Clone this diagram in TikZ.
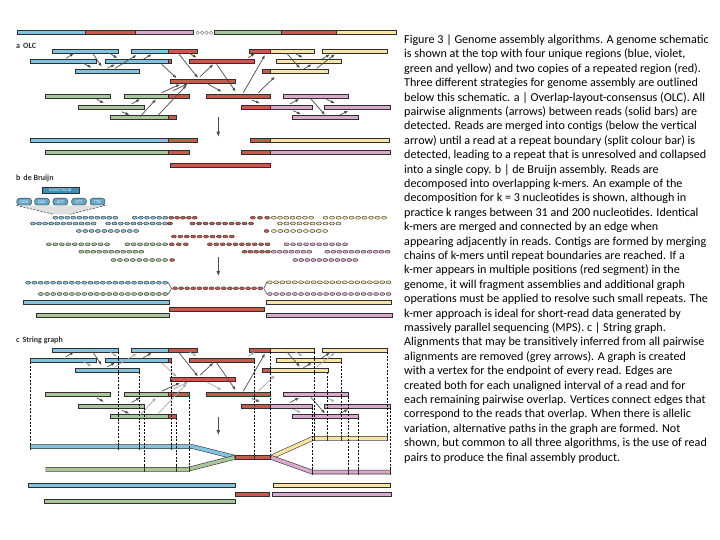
\documentclass[tikz,border=0pt]{standalone}
\usepackage{fontspec}
\setmainfont{Carlito}
\usepackage{tikz}
\usetikzlibrary{positioning,arrows.meta,calc}
\definecolor{ink}{HTML}{2F2F2F}
\definecolor{gblue}{HTML}{82C4DF}
\definecolor{gred}{HTML}{C65A4C}
\definecolor{gviolet}{HTML}{D8A9CA}
\definecolor{ggreen}{HTML}{A9C69B}
\definecolor{gyellow}{HTML}{F6E5A6}
\definecolor{arrowdark}{HTML}{4C4C4C}
\definecolor{arrowgrey}{HTML}{A8A8A8}
\definecolor{kmblue}{HTML}{3D8DB6}
\tikzset{
  bar/.style={draw=ink,line width=0.5pt},
  kmer/.style={draw=ink,line width=0.4pt},
  aln/.style={-{Latex[length=4pt,width=3pt]},line width=0.7pt},
  merge/.style={-{Latex[length=5pt,width=4pt]},line width=0.8pt,draw=arrowdark},
  lbl/.style={font=\fontsize{8}{9}\selectfont\bfseries,text=ink,anchor=west,inner sep=0pt},
  vtx/.style={draw=black,line width=0.5pt,dash pattern=on 2pt off 1.5pt},
  kmbox/.style={draw=ink,fill=kmblue,text=white,font=\fontsize{4.2}{5}\selectfont,
                inner sep=0.5pt,minimum width=37.6pt,minimum height=6pt},
  kmpill/.style={draw=ink,fill=kmblue!80,text=white,rounded corners=3pt,font=\fontsize{4.5}{5}\selectfont,
                 inner sep=0.5pt,minimum width=15pt,minimum height=7pt},
}
% one bar segment: y, x from, x to, colour
\newcommand{\seg}[4]{\draw[bar,fill=#4] (#2,#1-2) rectangle (#3,#1+2);}
% the same stretch as a chain of k-mers
\newcommand{\kmers}[4]{%
  \pgfmathtruncatemacro{\nk}{max(1,round((#3-#2)/6.2))}%
  \pgfmathsetmacro{\dk}{(#3-#2)/\nk}%
  \foreach \k in {1,...,\nk}{\draw[kmer,fill=#4] ({#2+(\k-0.5)*\dk},#1) ellipse (2.5pt and 1.5pt);}%
}
% graph edge of the string graph
\newcommand{\gedge}[2]{%
  \draw[line width=4.5pt,draw=ink,line join=round] #2;
  \draw[line width=3.4pt,draw=#1,line join=round,shorten <=0.5pt,shorten >=0.5pt] #2;}
% the reads, rows in \rA ... \rG
\newcommand{\allreads}[1]{%
  #1{\rA}{52.3}{118.3}{gblue}
  #1{\rA}{131.7}{168.3}{gblue}#1{\rA}{168.3}{197.7}{gred}
  #1{\rA}{249.3}{270.7}{gred}#1{\rA}{270.7}{314.3}{gyellow}
  #1{\rA}{322.3}{387.3}{gyellow}
  #1{\rB}{30}{96.7}{gblue}
  #1{\rB}{105}{168.3}{gblue}#1{\rB}{168.3}{171.7}{gred}
  #1{\rB}{189.3}{254.3}{gred}
  #1{\rB}{276.7}{341.7}{gyellow}
  #1{\rC}{75.7}{139.3}{gblue}
  #1{\rC}{262.3}{270.7}{gred}#1{\rC}{270.7}{328.3}{gyellow}
  #1{\rD}{170.7}{235}{gred}
  #1{\rE}{45.7}{110.3}{ggreen}
  #1{\rE}{124.3}{168.3}{ggreen}#1{\rE}{168.3}{189.3}{gred}
  #1{\rE}{206.7}{270.7}{gred}
  #1{\rE}{283.3}{348.3}{gviolet}
  #1{\rF}{78.3}{144.3}{ggreen}
  #1{\rF}{241.7}{270.7}{gred}#1{\rF}{270.7}{312.3}{gviolet}
  #1{\rF}{324.3}{390.7}{gviolet}
  #1{\rG}{110.3}{168.3}{ggreen}#1{\rG}{168.3}{176}{gred}
  #1{\rG}{292.3}{358.3}{gviolet}
}
% alignments: from x/y, to x/y, kept (d) or transitive (g)
\def\alnlist{66/58.3/74/53.3/d, 92.7/53.3/101.7/66.7/d, 110/53.3/117.3/58.3/g,
  83.3/63.3/91.7/67.7/g, 107.3/68.3/115/64.3/d, 115/68.3/136.7/55/g,
  143.3/59.3/151.7/54.3/d, 178.3/53.3/198/78/d, 189.3/53.3/196.7/57.7/g,
  161.7/64.3/176.7/78.3/g, 161.7/92.7/180/84.3/d, 173.3/90.7/188.3/83.3/g,
  158.3/115/186.7/85/g, 96.7/99.3/104/103.3/d, 131.7/104/140/99/d,
  140/116.7/156/99.3/g, 121.7/111.7/129.3/115/d, 200/76.7/213.3/64.3/d,
  216.7/64.3/235.7/91.7/d, 206.7/83.3/221.7/91.7/g, 243.3/92.7/265/55/d,
  248.3/57.7/255/53.3/g, 258.3/92.7/275/76.7/g, 251.7/100/260/103.3/d,
  286.7/53.3/300/68.3/d, 295/53.3/302.7/57.7/g, 303.3/69.3/311.7/64.3/d,
  316.7/68.3/335/54.3/g, 321.7/59.3/330/54.3/d, 290/104/299.3/99/d,
  311/99/325/115/d, 293.3/110.7/301/114.3/g, 326.7/99.3/335/103.3/g,
  340/115/348.3/110.7/d}

\begin{document}
\begin{tikzpicture}[x=1pt,y=-1pt]
\fill[white] (0,0) rectangle (720,540);
\useasboundingbox (0,0) rectangle (720,540);

% ---- genome
\seg{32.7}{17}{85}{gblue}\seg{32.7}{85}{135}{gred}\seg{32.7}{135}{193}{gviolet}
\foreach \cx in {197.5,202,206.5,211} \draw[draw=ink!60,line width=0.5pt] (\cx,32.7) circle (1.7pt);
\seg{32.7}{214}{281.7}{ggreen}\seg{32.7}{281.7}{336.7}{gred}\seg{32.7}{336.7}{396.7}{gyellow}

% ---- a OLC
\node[lbl] (labA) at (16,46) {a\hspace{3pt}OLC};
\def\rA{51.7}\def\rB{61.7}\def\rC{71.7}\def\rD{81}\def\rE{96}\def\rF{107.3}\def\rG{117.7}
\allreads{\seg}
\foreach \xa/\ya/\xb/\yb/\g in \alnlist {\draw[aln,draw=arrowdark] (\xa,\ya) -- (\xb,\yb);}
\draw[merge] (218.3,117.3) -- (218.3,136.7);
\seg{140.7}{30}{168.3}{gblue}\seg{140.7}{168.3}{197.7}{gred}
\seg{140.7}{250.7}{270.7}{gred}\seg{140.7}{270.7}{389.3}{gyellow}
\seg{152.7}{45.7}{168.3}{ggreen}\seg{152.7}{168.3}{189.3}{gred}
\seg{152.7}{241.7}{270.7}{gred}\seg{152.7}{270.7}{390.7}{gviolet}
\seg{165}{170.7}{270.7}{gred}

% ---- b de Bruijn
\node[lbl] (labB) at (16,178.3) {b\hspace{3pt}de Bruijn};
\node[kmbox] (read) at (60.5,190.3) {GGACTTGCAT};
\node[kmpill] (km1) at (24.2,201.7) {GGA};
\node[kmpill] (km2) at (42,201.7) {GAC};
\node[kmpill] (km3) at (60.3,201.7) {ACT};
\node[kmpill] (km4) at (79,201.7) {CTT};
\node[kmpill] (km5) at (97.5,201.7) {TTG};
\coordinate (rl) at (53.3,214.3);
\coordinate (rr) at (70,214.3);
\fill[black!12] (km1.south west) -- (km5.south east) -- (rr) -- (rl) -- cycle;
\draw[vtx,line width=0.4pt] (km1.south west) -- (rl);
\draw[vtx,line width=0.4pt] (km5.south east) -- (rr);
\def\rA{217.7}\def\rB{223.5}\def\rC{231}\def\rD{236.5}\def\rE{244.3}\def\rF{251.7}\def\rG{260}
\allreads{\kmers}
\draw[merge] (218.3,257.3) -- (218.3,276);
\kmers{282.7}{25}{168.3}{gblue}
\kmers{294}{37.7}{168.3}{ggreen}
\kmers{288.3}{172}{263.3}{gred}
\kmers{282.3}{266.7}{391.7}{gyellow}
\kmers{294}{266.7}{391.7}{gviolet}
\draw[ink,line width=0.5pt] (168.3,282.7) -- (171.5,288.3) -- (168.3,294);
\draw[ink,line width=0.5pt] (266.7,282.3) -- (263.8,288.3) -- (266.7,294);
\seg{302.7}{23.3}{169.3}{gblue}\seg{302.7}{266.7}{391.7}{gyellow}
\seg{309}{169.3}{264.3}{gred}
\seg{315.7}{36.7}{169.3}{ggreen}\seg{315.7}{266.7}{392.7}{gviolet}

% ---- c String graph
\node[lbl] (labC) at (16,340.7) {c\hspace{3pt}String graph};
\def\rA{350.2}\def\rB{360.2}\def\rC{370.2}\def\rD{379.5}\def\rE{394.5}\def\rF{405.8}\def\rG{416.2}
\allreads{\seg}
\foreach \xa/\ya/\xb/\yb/\g in \alnlist {%
  \if\g g\def\ac{arrowgrey}\else\def\ac{arrowdark}\fi
  \draw[aln,draw=\ac] (\xa,\ya+298.5) -- (\xb,\yb+298.5);}
\draw[merge] (218.3,416.7) -- (218.3,435);
\gedge{gblue}{(30,446.7) -- (193,446.7) -- (235,457.3)}
\gedge{ggreen}{(45.7,469.3) -- (188,469.3) -- (235,457.3)}
\gedge{gyellow}{(270.7,457.3) -- (313,438.3) -- (387.3,438.3)}
\gedge{gviolet}{(270.7,457.3) -- (312,472) -- (390.7,472)}
\gedge{gred}{(235,457.3) -- (270.7,457.3)}
\foreach \vx/\vt/\vb in {30/360.2/446.7, 118.3/350.2/446.7, 139.3/370.2/446.7,
    144.3/405.8/469.3, 171.7/360.2/446.7, 176/416.2/469.3, 189.3/394.5/469,
    254.3/360.2/457.3, 270.7/350.2/457.3, 312.3/405.8/472, 314.3/350.2/438.3,
    327.7/370.2/438.3, 341.7/360.2/438.3, 348.3/394.5/472, 358.3/416.2/472,
    387.3/350.2/438.3, 390.7/405.8/472} {%
  \draw[vtx] (\vx,\vt+2) -- (\vx,\vb);
  \draw[ink,line width=0.7pt] (\vx,\vb-3) -- (\vx,\vb+3);}
\seg{485.7}{28.3}{235}{gblue}\seg{485.3}{273.3}{390.7}{gyellow}
\seg{494.7}{235}{269.3}{gred}\seg{494.7}{272.7}{391}{gviolet}
\seg{501.7}{44.3}{235}{ggreen}

% ---- caption
\node[anchor=north west,align=left,inner sep=0pt,font=\fontsize{12.1}{14.4}\selectfont] (caption) at (404,34.5) {%
Figure 3 | Genome assembly algorithms. A genome schematic\\
is shown at the top with four unique regions (blue, violet,\\
green and yellow) and two copies of a repeated region (red).\\
Three different strategies for genome assembly are outlined\\
below this schematic. a | Overlap-layout-consensus (OLC). All\\
pairwise alignments (arrows) between reads (solid bars) are\\
detected. Reads are merged into contigs (below the vertical\\
arrow) until a read at a repeat boundary (split colour bar) is\\
detected, leading to a repeat that is unresolved and collapsed\\
into a single copy. b | de Bruijn assembly. Reads are\\
decomposed into overlapping k-mers. An example of the\\
decomposition for k = 3 nucleotides is shown, although in\\
practice k ranges between 31 and 200 nucleotides. Identical\\
k-mers are merged and connected by an edge when\\
appearing adjacently in reads. Contigs are formed by merging\\
chains of k-mers until repeat boundaries are reached. If a\\
k-mer appears in multiple positions (red segment) in the\\
genome, it will fragment assemblies and additional graph\\
operations must be applied to resolve such small repeats. The\\
k-mer approach is ideal for short-read data generated by\\
massively parallel sequencing (MPS). c | String graph.\\
Alignments that may be transitively inferred from all pairwise\\
alignments are removed (grey arrows). A graph is created\\
with a vertex for the endpoint of every read. Edges are\\
created both for each unaligned interval of a read and for\\
each remaining pairwise overlap. Vertices connect edges that\\
correspond to the reads that overlap. When there is allelic\\
variation, alternative paths in the graph are formed. Not\\
shown, but common to all three algorithms, is the use of read\\
pairs to produce the final assembly product.};

\end{tikzpicture}
\end{document}
